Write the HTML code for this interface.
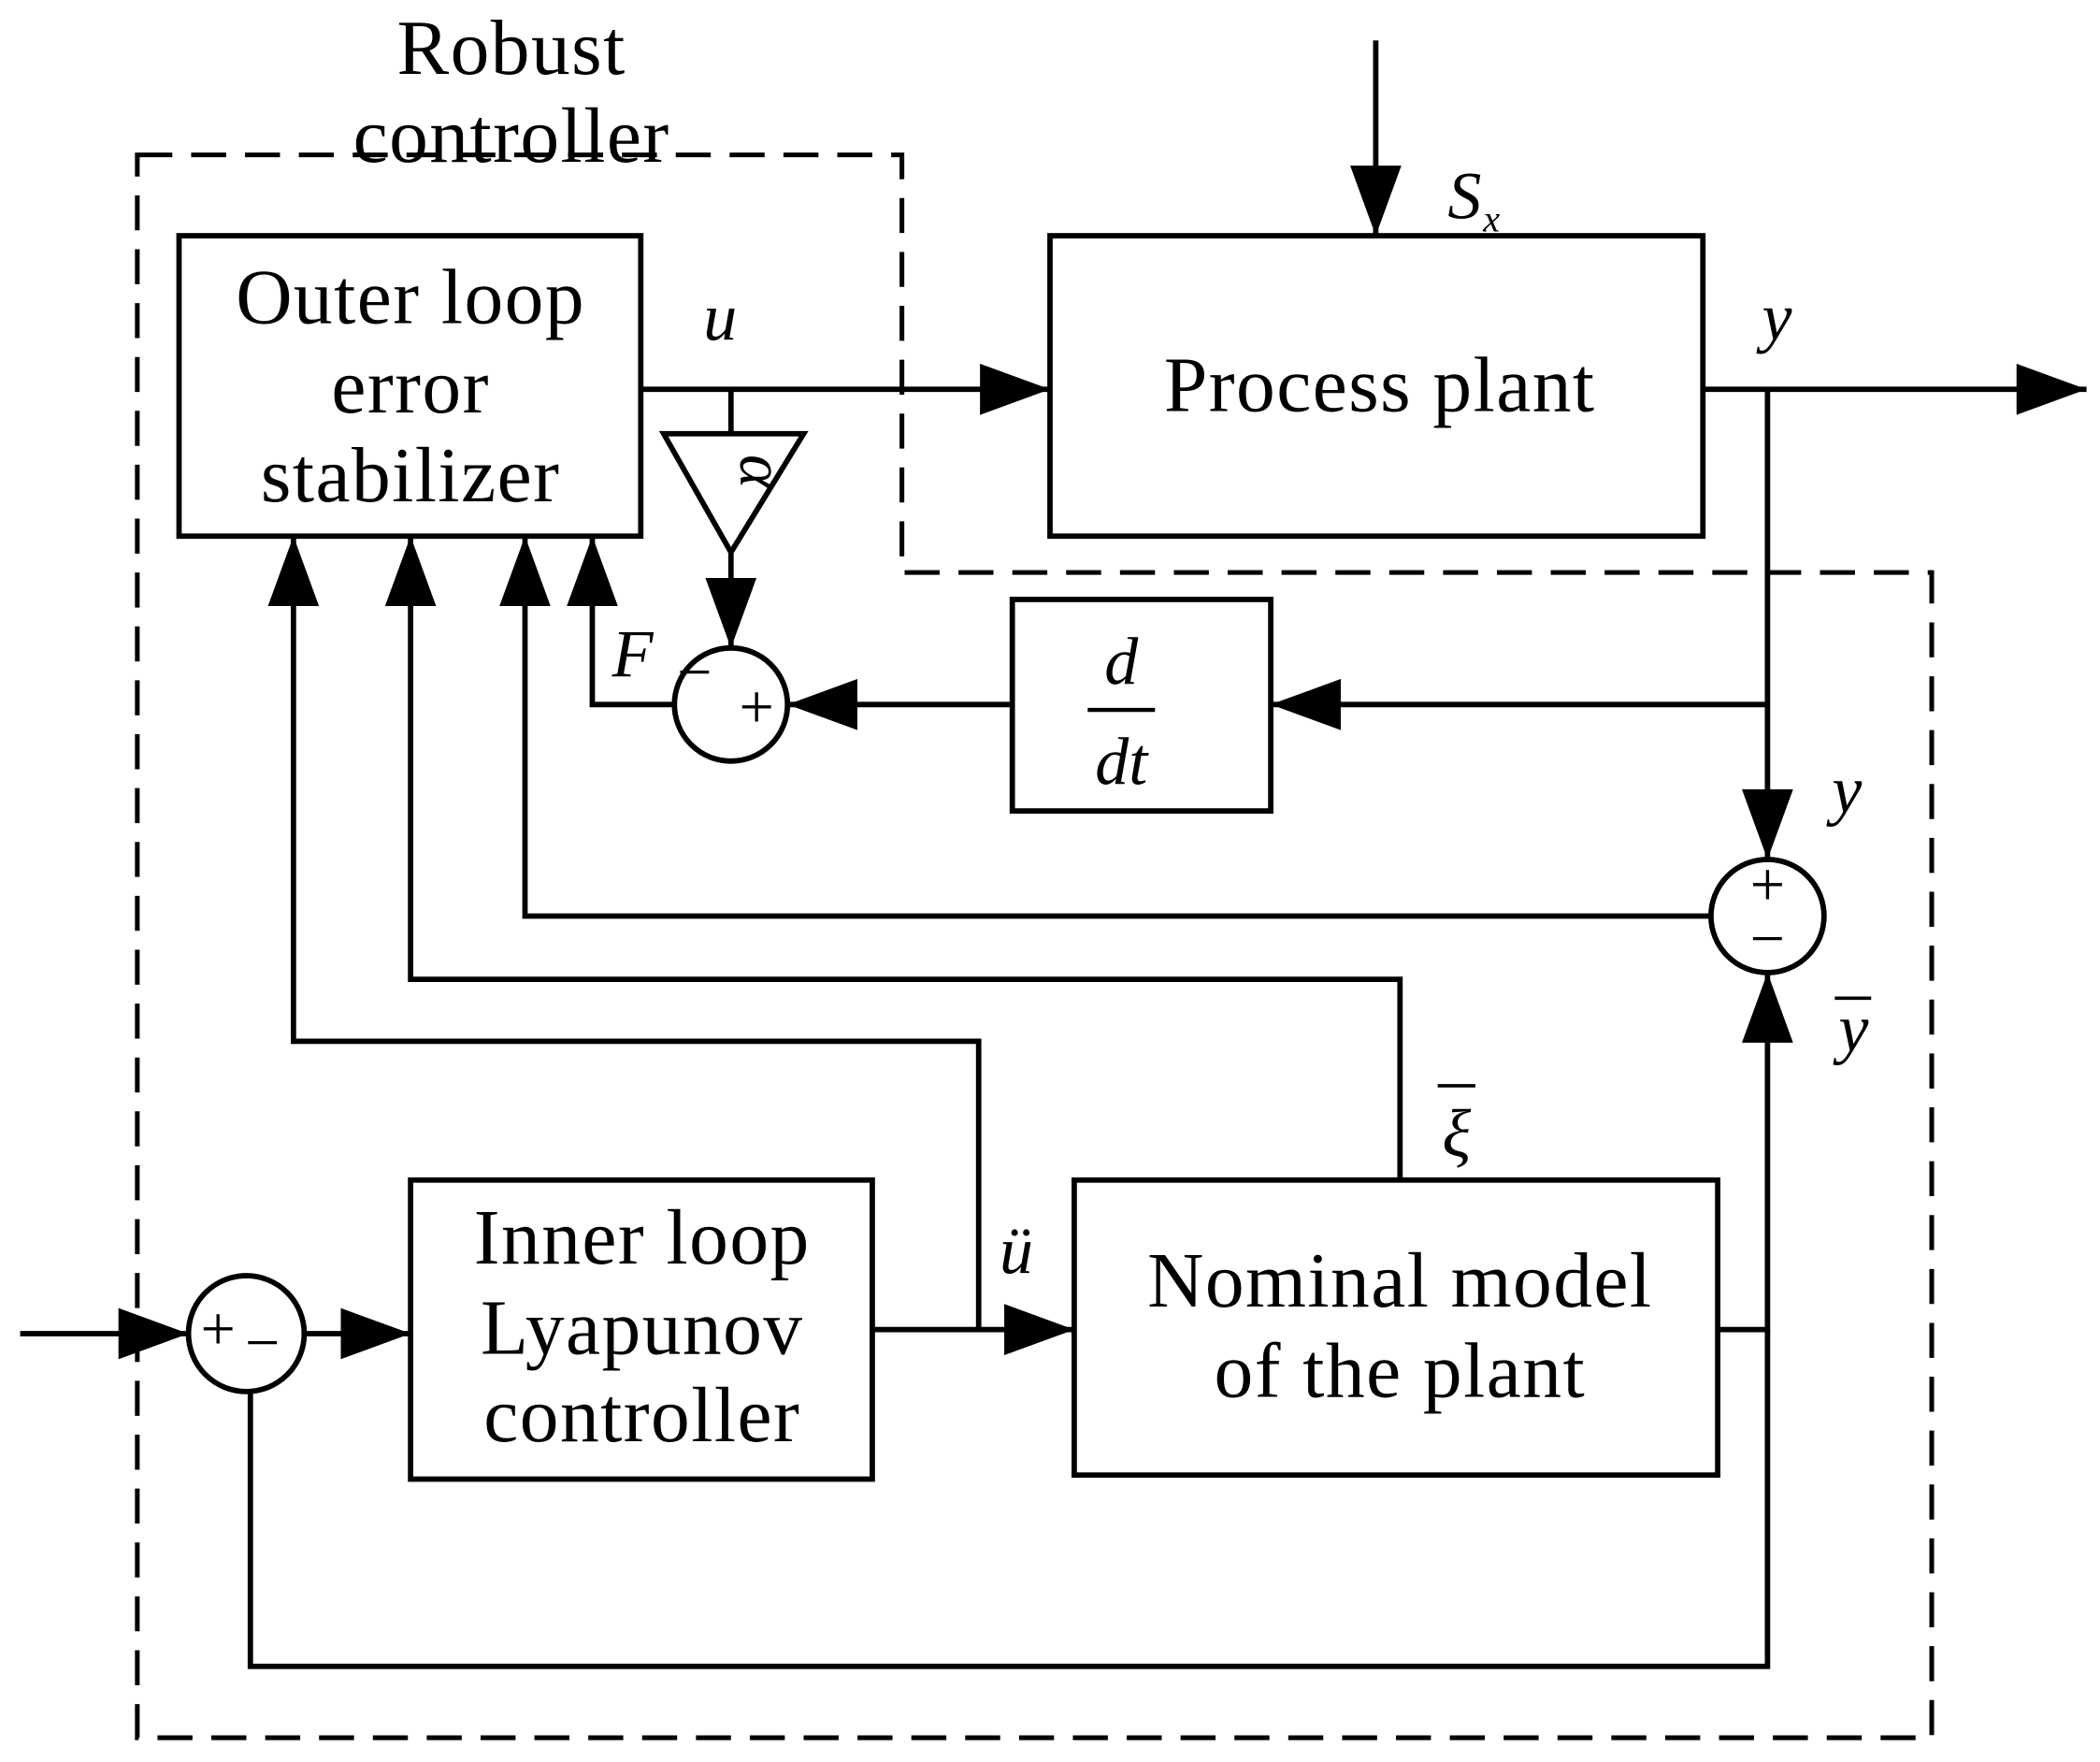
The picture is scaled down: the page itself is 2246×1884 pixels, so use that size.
<!DOCTYPE html>
<html><head><style>html,body{margin:0;padding:0;background:#fff}svg{display:block}</style></head>
<body>
<svg width="2246" height="1884" viewBox="0 0 1560 1308" preserveAspectRatio="none" xmlns="http://www.w3.org/2000/svg" font-family="'Liberation Serif', serif">
<defs>
<marker id="a" markerUnits="userSpaceOnUse" markerWidth="52" markerHeight="38" refX="52" refY="19" orient="auto">
<path d="M0,0 L52,19 L0,38 z" fill="#000"/>
</marker>
</defs>
<g fill="none" stroke="#000" stroke-width="4">
<path d="M102,115 L670,115 L670,425 L1435,425 L1435,1290 L102,1290 Z" stroke-width="3.5" stroke-dasharray="26,14"/>
<rect x="133" y="175" width="343" height="223"/>
<rect x="780" y="175" width="485" height="223"/>
<rect x="752" y="445" width="192" height="157"/>
<rect x="305" y="876" width="343" height="222"/>
<rect x="798" y="876" width="478" height="219"/>
<circle cx="543" cy="523" r="42"/>
<circle cx="1313" cy="680" r="42"/>
<circle cx="183" cy="990" r="43"/>
<path d="M493,322 L597,322 L543,410 Z"/>
<path d="M1022,30 L1022,175" marker-end="url(#a)"/>
<path d="M476,289 L780,289" marker-end="url(#a)"/>
<path d="M1265,289 L1550,289" marker-end="url(#a)"/>
<path d="M543,289 L543,322"/>
<path d="M543,410 L543,481" marker-end="url(#a)"/>
<path d="M1313,289 L1313,638" marker-end="url(#a)"/>
<path d="M1313,523 L944,523" marker-end="url(#a)"/>
<path d="M752,523 L585,523" marker-end="url(#a)"/>
<path d="M501,523 L440,523 L440,398" marker-end="url(#a)"/>
<path d="M1271,680 L390,680 L390,398" marker-end="url(#a)"/>
<path d="M1040,876 L1040,727 L305,727 L305,398" marker-end="url(#a)"/>
<path d="M727,987 L727,773 L218,773 L218,398" marker-end="url(#a)"/>
<path d="M648,987 L798,987" marker-end="url(#a)"/>
<path d="M1276,987 L1313,987 L1313,722" marker-end="url(#a)"/>
<path d="M1313,987 L1313,1237 L186,1237 L186,1033"/>
<path d="M15,990 L140,990" marker-end="url(#a)"/>
<path d="M226,990 L305,990" marker-end="url(#a)"/>
<path d="M808,527 L858,527" stroke-width="3"/>
<path d="M1068,806 L1096,806" stroke-width="2.5"/>
<path d="M1363,741 L1390,741" stroke-width="2.5"/>
</g>
<g font-size="58" text-anchor="middle" fill="#000" letter-spacing="1">
<text x="380" y="55">Robust</text>
<text x="380" y="120">controller</text>
<text x="305" y="240">Outer loop</text>
<text x="305" y="306">error</text>
<text x="305" y="372">stabilizer</text>
<text x="1025" y="305">Process plant</text>
<text x="477" y="938">Inner loop</text>
<text x="477" y="1005">Lyapunov</text>
<text x="477" y="1070">controller</text>
<text x="1040" y="970">Nominal model</text>
<text x="1040" y="1037">of the plant</text>
</g>
<g font-size="50" font-style="italic" fill="#000" text-anchor="middle">
<text x="1088" y="162">S</text>
<text x="1108" y="172" font-size="28">x</text>
<text x="535" y="252">u</text>
<text x="1320" y="252">y</text>
<text x="470" y="502">F</text>
<text x="833" y="508">d</text>
<text x="833" y="582">dt</text>
<text x="1372" y="603">y</text>
<text x="1377" y="780">y</text>
<text x="1082" y="858">ξ</text>
<text x="755" y="945">ü</text>
<text x="550" y="350" transform="rotate(90 550 350)" font-size="48">α</text>
</g>
<g font-size="46" fill="#000" text-anchor="middle">
<text x="516" y="514">−</text>
<text x="562" y="540">+</text>
<text x="1313" y="672">+</text>
<text x="1313" y="712">−</text>
<text x="162" y="1002">+</text>
<text x="195" y="1012">−</text>
</g>
</svg>
</body></html>
